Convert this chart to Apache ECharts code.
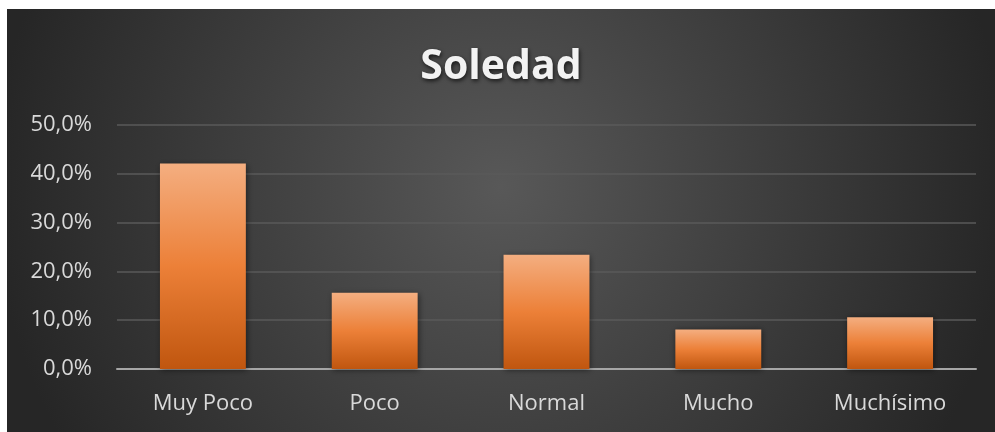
<!DOCTYPE html>
<html>
<head>
<meta charset="utf-8">
<script src="https://cdn.jsdelivr.net/npm/echarts@6/dist/echarts.min.js"></script>
<style>
html,body{margin:0;padding:0;background:#ffffff;}
#c{position:absolute;left:7px;top:9px;width:988px;height:423px;}
</style>
</head>
<body>
<div id="c"></div>
<script>
const categories = ['Muy Poco', 'Poco', 'Normal', 'Mucho', 'Muchísimo'];
const values = [42.1, 15.6, 23.4, 8.1, 10.6];
const yTicks = [0, 10, 20, 30, 40, 50];
const titleText = 'Soledad';

const chart = echarts.init(document.getElementById('c'), null, {renderer: 'canvas'});
chart.setOption({
  animation: false,
  backgroundColor: {
    type: 'radial', x: 0.5, y: 0.42, r: 1.2,
    colorStops: [
      {offset: 0, color: '#585858'},
      {offset: 1, color: '#262626'}
    ]
  },
  title: {
    text: titleText,
    left: 'center',
    top: 33,
    textStyle: {
      color: '#f2f2f2',
      fontFamily: 'Open Sans',
      fontWeight: 'bold',
      fontSize: 41,
      textShadowColor: 'rgba(0,0,0,0.7)',
      textShadowBlur: 4,
      textShadowOffsetX: 1,
      textShadowOffsetY: 2
    }
  },
  grid: {left: 110, right: 19, top: 116, bottom: 63},
  xAxis: {
    type: 'category',
    data: categories,
    axisLine: {lineStyle: {color: '#a6a6a6', width: 2}},
    axisTick: {show: false},
    axisLabel: {color: '#d9d9d9', fontFamily: 'Open Sans', fontSize: 22, margin: 24}
  },
  yAxis: {
    type: 'value',
    min: yTicks[0],
    max: yTicks[yTicks.length - 1],
    interval: 10,
    axisLine: {show: false},
    axisTick: {show: false},
    splitLine: {lineStyle: {color: '#5a5a5a', width: 1.5}},
    axisLabel: {
      color: '#d9d9d9', fontFamily: 'Open Sans', fontSize: 22, margin: 25,
      formatter: v => v.toFixed(1).replace('.', ',') + '%'
    }
  },
  series: [{
    type: 'bar',
    data: values,
    barWidth: '50%',
    itemStyle: {
      color: {
        type: 'linear', x: 0, y: 0, x2: 0, y2: 1,
        colorStops: [
          {offset: 0, color: '#f4ae80'},
          {offset: 0.5, color: '#ec8038'},
          {offset: 1, color: '#c0560f'}
        ]
      },
      shadowColor: 'rgba(0,0,0,0.5)',
      shadowBlur: 6,
      shadowOffsetX: 1,
      shadowOffsetY: 1
    }
  }]
});
</script>
</body>
</html>
